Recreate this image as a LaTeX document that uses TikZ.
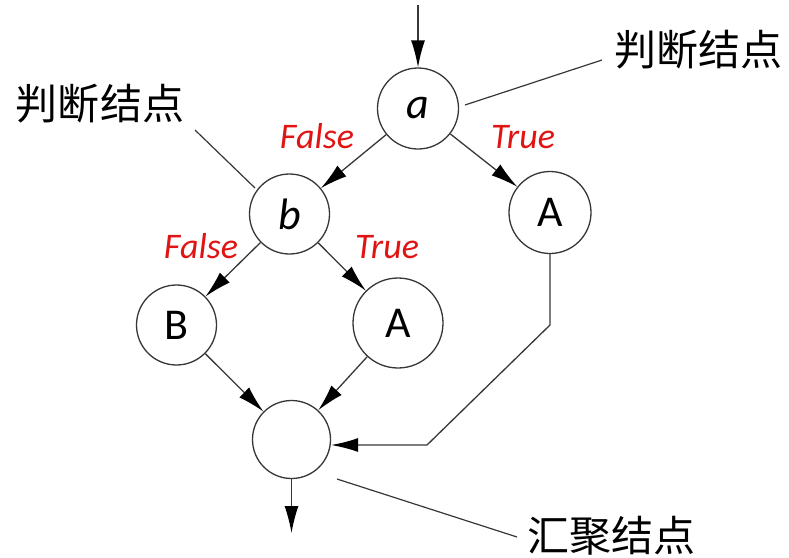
\documentclass[tikz,border=0pt]{standalone}
\usepackage{fontspec}
\setmainfont{Carlito}
\newfontfamily\cjk{Noto Sans CJK SC}
\usetikzlibrary{arrows.meta}
\definecolor{labelred}{RGB}{225,20,20}
\definecolor{linegray}{RGB}{55,55,55}
\tikzset{
  state/.style={circle, draw=linegray, line width=1.3pt, fill=white, inner sep=0pt, font=\fontsize{44}{44}\selectfont},
  flow/.style={draw=linegray, line width=1.3pt, -{Latex[length=27pt,width=14pt,color=black]}},
  callout/.style={draw=linegray, line width=1.2pt},
  cond/.style={text=labelred, font=\fontsize{36}{36}\selectfont\itshape, inner sep=0pt},
  note/.style={font=\cjk\fontsize{42}{42}\selectfont, inner sep=0pt}
}
\begin{document}
\begin{tikzpicture}[x=1pt,y=-1pt]
\useasboundingbox (0,0) rectangle (789,557);
% nodes
\node[state, minimum size=81pt] (a) at (418,108.5) {\itshape a};
\node[state, minimum size=80pt] (b) at (289.5,214) {\itshape b};
\node[state, minimum size=82pt] (Ar) at (550,212.5) {A};
\node[state, minimum size=80pt] (B) at (176.5,325) {B};
\node[state, minimum size=90pt] (Am) at (398,323) {A};
\node[state, minimum size=78pt] (m) at (291.5,439.5) {};
% coordinates
\coordinate (in) at (418,5);
\coordinate (out) at (291.5,533);
\coordinate (k1) at (550,325);
\coordinate (k2) at (427,445);
% flows
\draw[flow] (in) -- (a);
\draw[flow] (a) -- (b);
\draw[flow] (a) -- (Ar);
\draw[flow] (b) -- (B);
\draw[flow] (b) -- (Am);
\draw[flow] (B) -- (m);
\draw[flow] (Am) -- (m);
\draw[flow] (Ar.south) -- (k1) -- (k2) -- (m.east |- k2);
\draw[flow] (m) -- (out);
% condition labels
\node[cond] (fa) at (317,136) {False};
\node[cond] (ta) at (523,137) {True};
\node[cond] (fb) at (201,246) {False};
\node[cond] (tb) at (387,247) {True};
% callouts
\node[note] (n1) at (698,50) {判断结点};
\node[note] (n2) at (100,104) {判断结点};
\node[note] (n3) at (611,536) {汇聚结点};
\coordinate (c1a) at (465,105);
\coordinate (c1b) at (602,60);
\coordinate (c2a) at (195,130);
\coordinate (c2b) at (255,188);
\coordinate (c3a) at (337,479);
\coordinate (c3b) at (517,537);
\draw[callout] (c1a) -- (c1b);
\draw[callout] (c2a) -- (c2b);
\draw[callout] (c3a) -- (c3b);
\end{tikzpicture}
\end{document}
